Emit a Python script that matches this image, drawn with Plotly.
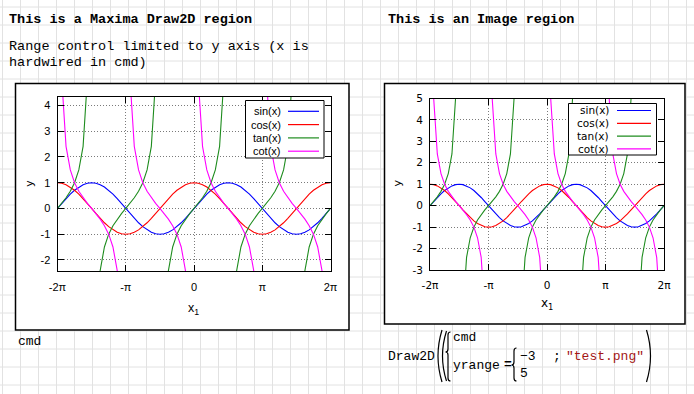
import plotly.graph_objects as go

W, H = 694, 394

# ---------------- data (x in units of pi, sampled every pi/16 from -2pi to 2pi) ----------------
x_start_pi = -2.0
x_step_pi = 0.0625

sin_vals = [0, .1951, .3827, .5556, .7071, .8315, .9239, .9808, 1, .9808, .9239, .8315, .7071, .5556, .3827, .1951,
            0, -.1951, -.3827, -.5556, -.7071, -.8315, -.9239, -.9808, -1, -.9808, -.9239, -.8315, -.7071, -.5556, -.3827, -.1951,
            0, .1951, .3827, .5556, .7071, .8315, .9239, .9808, 1, .9808, .9239, .8315, .7071, .5556, .3827, .1951,
            0, -.1951, -.3827, -.5556, -.7071, -.8315, -.9239, -.9808, -1, -.9808, -.9239, -.8315, -.7071, -.5556, -.3827, -.1951,
            0]
cos_vals = [1, .9808, .9239, .8315, .7071, .5556, .3827, .1951, 0, -.1951, -.3827, -.5556, -.7071, -.8315, -.9239, -.9808,
            -1, -.9808, -.9239, -.8315, -.7071, -.5556, -.3827, -.1951, 0, .1951, .3827, .5556, .7071, .8315, .9239, .9808,
            1, .9808, .9239, .8315, .7071, .5556, .3827, .1951, 0, -.1951, -.3827, -.5556, -.7071, -.8315, -.9239, -.9808,
            -1, -.9808, -.9239, -.8315, -.7071, -.5556, -.3827, -.1951, 0, .1951, .3827, .5556, .7071, .8315, .9239, .9808,
            1]
tan_vals = [0, .1989, .4142, .6682, 1, 1.4966, 2.4142, 5.0273, None, -5.0273, -2.4142, -1.4966, -1, -.6682, -.4142, -.1989,
            0, .1989, .4142, .6682, 1, 1.4966, 2.4142, 5.0273, None, -5.0273, -2.4142, -1.4966, -1, -.6682, -.4142, -.1989,
            0, .1989, .4142, .6682, 1, 1.4966, 2.4142, 5.0273, None, -5.0273, -2.4142, -1.4966, -1, -.6682, -.4142, -.1989,
            0, .1989, .4142, .6682, 1, 1.4966, 2.4142, 5.0273, None, -5.0273, -2.4142, -1.4966, -1, -.6682, -.4142, -.1989,
            0]
cot_vals = [None, 5.0273, 2.4142, 1.4966, 1, .6682, .4142, .1989, 0, -.1989, -.4142, -.6682, -1, -1.4966, -2.4142, -5.0273,
            None, 5.0273, 2.4142, 1.4966, 1, .6682, .4142, .1989, 0, -.1989, -.4142, -.6682, -1, -1.4966, -2.4142, -5.0273,
            None, 5.0273, 2.4142, 1.4966, 1, .6682, .4142, .1989, 0, -.1989, -.4142, -.6682, -1, -1.4966, -2.4142, -5.0273,
            None, 5.0273, 2.4142, 1.4966, 1, .6682, .4142, .1989, 0, -.1989, -.4142, -.6682, -1, -1.4966, -2.4142, -5.0273,
            None]

series_names = ["sin(x)", "cos(x)", "tan(x)", "cot(x)"]
series_values = [sin_vals, cos_vals, tan_vals, cot_vals]
series_colors = ["#0000ff", "#ff0000", "#1e8c1e", "#ff00ff"]

x_tick_vals = [-2, -1, 0, 1, 2]
x_tick_text = ["-2π", "-π", "0", "π", "2π"]

left_y_range = [-2.43, 4.35]
left_y_ticks = [-2, -1, 0, 1, 2, 3, 4]
right_y_range = [-3, 5]
right_y_ticks = [-3, -2, -1, 0, 1, 2, 3, 4, 5]


def tick_labels(vals):
    return [str(v) for v in vals]


def px(x):
    return x / W


def py(y):
    return 1 - y / H


fig = go.Figure()

for name, vals, col in zip(series_names, series_values, series_colors):
    fig.add_trace(go.Scatter(y=vals, x0=x_start_pi, dx=x_step_pi, mode="lines", name=name,
                             line=dict(color=col, width=1.1), xaxis="x", yaxis="y",
                             showlegend=False, connectgaps=False))
for name, vals, col in zip(series_names, series_values, series_colors):
    fig.add_trace(go.Scatter(y=vals, x0=x_start_pi, dx=x_step_pi, mode="lines", name=name,
                             line=dict(color=col, width=1.1), xaxis="x2", yaxis="y2",
                             showlegend=False, connectgaps=False))

# plot areas (pixel positions)
L = dict(x0=57.5, x1=330.5, y0=96.5, y1=271)
R = dict(x0=430, x1=664, y0=98.5, y1=270)

common_axis = dict(showline=True, linecolor="black", linewidth=1, mirror="ticks",
                   ticks="inside", ticklen=6, tickcolor="black", tickwidth=1,
                   showgrid=True, gridcolor="#7a7a7a", gridwidth=1, griddash="1px,2px",
                   zeroline=False, fixedrange=True, automargin=False)

lf = dict(family="Liberation Sans, Arial, sans-serif", size=11, color="black")
rf = dict(family="DejaVu Sans, Verdana, sans-serif", size=10.5, color="black")

fig.update_layout(
    template="none",
    width=W, height=H, margin=dict(l=0, r=0, t=0, b=0, pad=0), autosize=False,
    paper_bgcolor="white", plot_bgcolor="white", showlegend=False,
    xaxis=dict(domain=[px(L["x0"]), px(L["x1"])], range=[-2, 2], tickvals=x_tick_vals, ticktext=x_tick_text,
               anchor="y", tickfont=lf, ticklabelstandoff=6, **common_axis),
    yaxis=dict(domain=[py(L["y1"]), py(L["y0"])], range=left_y_range, tickvals=left_y_ticks,
               ticktext=tick_labels(left_y_ticks), anchor="x", tickfont=lf, ticklabelstandoff=4, **common_axis),
    xaxis2=dict(domain=[px(R["x0"]), px(R["x1"])], range=[-2, 2], tickvals=x_tick_vals, ticktext=x_tick_text,
                anchor="y2", tickfont=rf, ticklabelstandoff=5, **common_axis),
    yaxis2=dict(domain=[py(R["y1"]), py(R["y0"])], range=right_y_range, tickvals=right_y_ticks,
                ticktext=tick_labels(right_y_ticks), anchor="x2", tickfont=rf, ticklabelstandoff=4, **common_axis),
)

shapes = []
# worksheet background grid
gx = 2.5
while gx < W:
    shapes.append(dict(type="line", xref="paper", yref="paper", x0=px(gx), x1=px(gx), y0=0, y1=1,
                       line=dict(color="#e2e2e2", width=1), layer="below"))
    gx += 18
gy = 7
while gy < H:
    shapes.append(dict(type="line", xref="paper", yref="paper", x0=0, x1=1, y0=py(gy), y1=py(gy),
                       line=dict(color="#e2e2e2", width=1), layer="below"))
    gy += 18

# region frames
for (a, b, c, d) in [(15.5, 83.5, 349, 330), (384.5, 83.5, 685, 324)]:
    shapes.append(dict(type="rect", xref="paper", yref="paper", x0=px(a), x1=px(c), y0=py(d), y1=py(b),
                       line=dict(color="black", width=1.5), fillcolor="white", layer="below"))

annotations = []


def legend(box, text_right, line_x0, line_x1, row_y, font):
    a, b, c, d = box
    shapes.append(dict(type="rect", xref="paper", yref="paper", x0=px(a), x1=px(c), y0=py(d), y1=py(b),
                       line=dict(color="black", width=1), fillcolor="white", layer="above"))
    for i, (name, col) in enumerate(zip(series_names, series_colors)):
        yy = row_y[i]
        shapes.append(dict(type="line", xref="paper", yref="paper", x0=px(line_x0), x1=px(line_x1),
                           y0=py(yy), y1=py(yy), line=dict(color=col, width=1.2), layer="above"))
        annotations.append(dict(text=name, xref="paper", yref="paper", x=px(text_right + 1), y=py(yy),
                                xanchor="right", yanchor="middle", showarrow=False, font=font))


legend((245.5, 100.5, 324, 158), 282, 288, 319, [111.3, 124.6, 137.9, 151.2], lf)
legend((568.5, 103.5, 656.5, 155), 609.5, 617, 651, [110.5, 123.3, 136.1, 148.9], rf)


def note(text, x, y, size=13.5, bold=False, color="black", xanchor="left", angle=0, family=None):
    if bold:
        text = "<b>" + text + "</b>"
    annotations.append(dict(text=text, xref="paper", yref="paper", x=px(x), y=py(y), xanchor=xanchor,
                            yanchor="middle", showarrow=False, textangle=angle,
                            font=dict(family=family or "Liberation Mono, Courier New, monospace",
                                      size=size, color=color)))


# axis titles
note("y", 28.5, 184, size=11.5, xanchor="center", angle=-90, family=lf["family"])
note("x<sub>1</sub>", 193, 309, size=12.5, xanchor="center", family=lf["family"])
note("y", 397, 183.5, size=11, xanchor="center", angle=-90, family=rf["family"])
note("x<sub>1</sub>", 547, 304, size=12, xanchor="center", family=rf["family"])

# worksheet texts
note("This is a Maxima Draw2D region", 7, 19.5, bold=True)
note("Range control limited to y axis (x is", 7, 46)
note("hardwired in cmd)", 7, 62.5)
note("This is an Image region", 385.5, 19.5, bold=True)
note("cmd", 16, 341, size=13)

# Draw2D formula
note("Draw2D", 385.5, 356, size=13)
note("cmd", 450.5, 337, size=13)
note("yrange", 450.5, 365, size=13)
note("=", 501.5, 364, size=13, bold=True)
note("−3", 518, 356, size=13)
note("5", 518, 373.5, size=13)
note(";", 551, 356, size=13)
note("\"test.png\"", 564, 356, size=13, color="#a31515")


def p(x, y):
    return f"{px(x):.5f},{py(y):.5f}"


def paren_left(xr, xl, y0, y1):
    ym = (y0 + y1) / 2
    return f"M {p(xr, y0)} Q {p(2 * xl - xr, ym)} {p(xr, y1)}"


def paren_right(xl, xr, y0, y1):
    ym = (y0 + y1) / 2
    return f"M {p(xl, y0)} Q {p(2 * xr - xl, ym)} {p(xl, y1)}"


def brace(xl, w, y0, y1, ym):
    xm = xl + w / 2
    r = 3
    return (f"M {p(xl + w, y0)} Q {p(xm, y0)} {p(xm, y0 + r)} L {p(xm, ym - r)} "
            f"Q {p(xm, ym)} {p(xl, ym)} Q {p(xm, ym)} {p(xm, ym + r)} L {p(xm, y1 - r)} "
            f"Q {p(xm, y1)} {p(xl + w, y1)}")


for path in [paren_left(442, 438, 330, 382), paren_left(446.5, 442.5, 331, 381),
             brace(445.5, 5, 332, 381, 352), brace(511.5, 5, 348, 381, 365),
             paren_right(646.5, 650.5, 330, 382)]:
    shapes.append(dict(type="path", xref="paper", yref="paper", path=path,
                       line=dict(color="black", width=1.2), layer="above"))

fig.update_layout(shapes=shapes, annotations=annotations)
fig.write_html("out.html", config={"displayModeBar": False, "staticPlot": True},
               post_script="document.body.style.margin='0';document.body.style.overflow='hidden';")
